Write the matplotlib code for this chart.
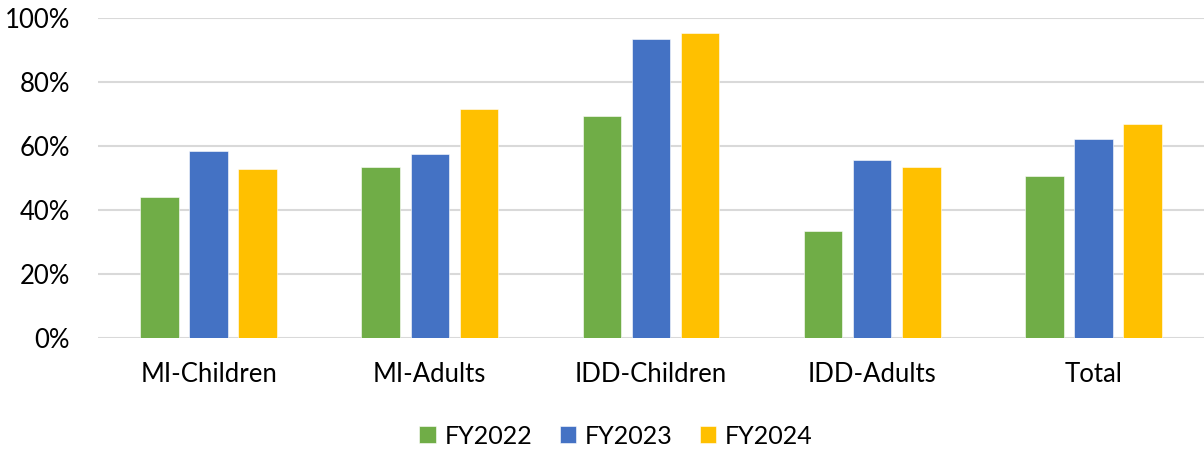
import numpy as np
import matplotlib.pyplot as plt
from matplotlib.ticker import PercentFormatter

categories = ["MI-Children", "MI-Adults", "IDD-Children", "IDD-Adults", "Total"]
fy2022 = [44.1, 53.4, 69.4, 33.6, 50.5]
fy2023 = [58.4, 57.4, 93.2, 55.6, 62.2]
fy2024 = [52.8, 71.4, 95.2, 53.4, 66.8]

series = [("FY2022", fy2022, "#70AD47"),
          ("FY2023", fy2023, "#4472C4"),
          ("FY2024", fy2024, "#FFC000")]

plt.rcParams['font.family'] = ['Lato', 'DejaVu Sans']

fig = plt.figure(figsize=(12.04, 4.5), dpi=100)
ax = fig.add_axes([0.0814, 0.2478, 0.9186, 0.7133])

x = np.arange(len(categories))
width = 0.174
step = 0.222
for i, (name, vals, color) in enumerate(series):
    ax.bar(x + (i - 1) * step, vals, width, color=color, label=name,
           edgecolor="white", linewidth=0.4, zorder=3)

ax.set_xlim(-0.5, len(categories) - 0.5)
ax.set_ylim(0, 100)
ax.set_yticks(range(0, 101, 20))
ax.yaxis.set_major_formatter(PercentFormatter(decimals=0))
ax.set_xticks(x)
ax.set_xticklabels(categories)
ax.grid(axis="y", color="#d9d9d9", linewidth=1.5, zorder=0)
for s in ax.spines.values():
    s.set_visible(False)
ax.tick_params(axis="both", length=0, labelsize=18.5, colors="#000000")
ax.tick_params(axis="y", pad=20)
ax.tick_params(axis="x", pad=17)

fig.legend(loc="center", bbox_to_anchor=(616 / 1204, 1 - 436 / 450), ncol=3,
           frameon=False, fontsize=18, handlelength=0.65, handleheight=0.65,
           handletextpad=0.35, columnspacing=1.1)

fig.savefig("out.png", dpi=100)
